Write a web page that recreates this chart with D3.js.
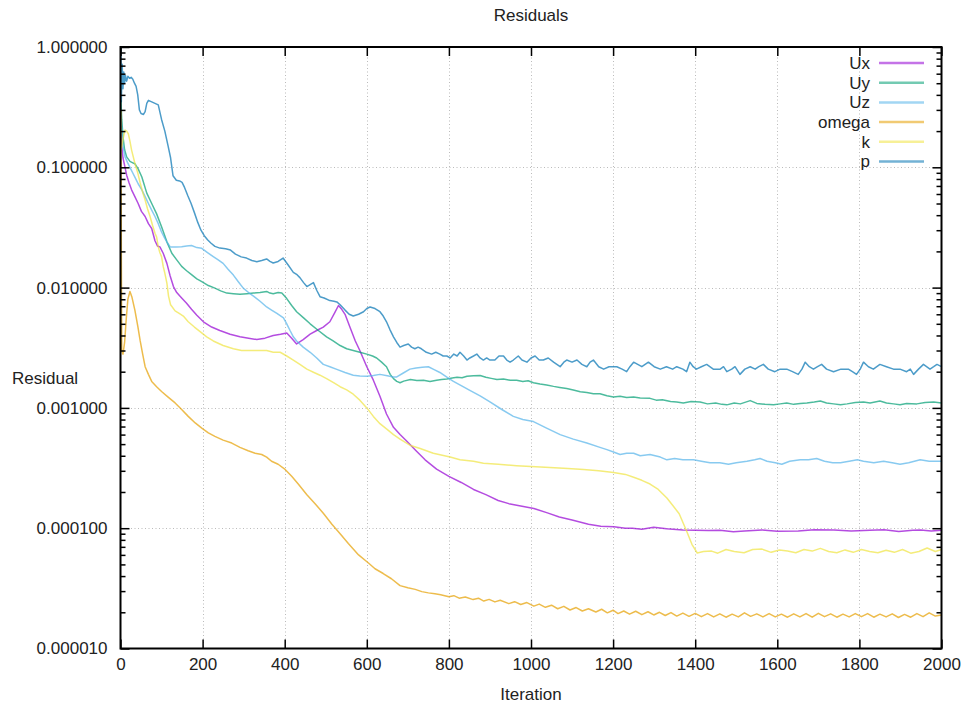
<!DOCTYPE html>
<html>
<head>
<meta charset="utf-8">
<script src="https://cdn.jsdelivr.net/npm/d3@7"></script>
<style>
  body { margin: 0; background: #fff; }
  text { font-family: "Liberation Sans", Arial, sans-serif; fill: #222; }
</style>
</head>
<body>
<svg id="chart"></svg>
<script>
// residual histories, [iteration, residual]
const p = [[1,1.0],[2,0.35],[4,0.72],[6,0.45],[8,0.62],[10,0.5],[12,0.58],[15,0.52],[18,0.57],[22,0.55],[26,0.56],[30,0.54],[34,0.5],[38,0.47],[42,0.4],[46,0.3],[50,0.28],[56,0.275],[60,0.29],[64,0.34],[68,0.36],[76,0.35],[84,0.34],[92,0.33],[100,0.25],[108,0.2],[116,0.15],[122,0.12],[128,0.085],[136,0.078],[144,0.077],[150,0.075],[156,0.068],[164,0.058],[172,0.05],[180,0.042],[188,0.035],[196,0.03],[204,0.027],[212,0.025],[220,0.0235],[230,0.022],[242,0.0213],[256,0.021],[268,0.0205],[280,0.019],[294,0.018],[307,0.0176],[320,0.0168],[332,0.0164],[344,0.0168],[356,0.0173],[364,0.0165],[372,0.016],[384,0.0165],[396,0.0176],[408,0.0155],[421,0.0134],[430,0.0128],[437,0.0121],[446,0.011],[454,0.0102],[462,0.0106],[470,0.011],[478,0.0095],[486,0.0084],[496,0.0082],[510,0.0078],[520,0.0077],[527,0.0076],[535,0.0072],[547,0.0065],[557,0.006],[567,0.0058],[580,0.006],[592,0.0063],[600,0.0067],[608,0.0069],[620,0.0067],[632,0.0063],[640,0.0058],[648,0.0052],[656,0.0045],[665,0.0039],[673,0.0035],[681,0.0032],[690,0.0033],[701,0.0034],[709,0.0032],[717,0.0031],[725,0.0032],[733,0.0031],[745,0.0029],[758,0.0028],[768,0.0029],[778,0.0028],[786,0.0027],[795,0.0027],[803,0.0026],[812,0.0028],[820,0.0027],[827,0.0029],[836,0.0027],[844,0.0025],[851,0.0026],[860,0.0027],[868,0.0028],[876,0.0026],[884,0.0025],[892,0.0026],[900,0.0025],[912,0.0025],[922,0.0027],[933,0.0027],[941,0.0025],[949,0.0024],[957,0.0025],[969,0.0027],[978,0.0025],[990,0.0024],[1000,0.0026],[1010,0.0027],[1020,0.0025],[1030,0.0025],[1042,0.0026],[1055,0.0024],[1063,0.0023],[1071,0.0022],[1080,0.0024],[1087,0.0025],[1100,0.0024],[1112,0.0025],[1124,0.0023],[1136,0.0022],[1144,0.0024],[1152,0.0025],[1165,0.0022],[1177,0.0021],[1190,0.0022],[1209,0.0022],[1222,0.0021],[1233,0.0020],[1241,0.0022],[1250,0.0024],[1260,0.0023],[1270,0.0022],[1286,0.0024],[1300,0.0022],[1315,0.0021],[1330,0.0022],[1345,0.0021],[1355,0.0022],[1370,0.0021],[1379,0.0020],[1387,0.0024],[1395,0.0022],[1403,0.0021],[1415,0.0022],[1428,0.0023],[1444,0.0021],[1461,0.0021],[1469,0.0022],[1477,0.0020],[1489,0.0021],[1497,0.0022],[1509,0.0019],[1521,0.0021],[1534,0.0022],[1546,0.0021],[1555,0.0022],[1566,0.0023],[1578,0.0021],[1594,0.0020],[1607,0.0021],[1623,0.0021],[1637,0.0020],[1651,0.0019],[1660,0.0021],[1668,0.0024],[1678,0.0022],[1688,0.0021],[1698,0.0022],[1708,0.0023],[1720,0.0021],[1737,0.0020],[1755,0.0021],[1773,0.0021],[1783,0.0020],[1793,0.0019],[1802,0.0021],[1810,0.0024],[1822,0.0022],[1834,0.0021],[1850,0.0023],[1866,0.0022],[1883,0.0021],[1899,0.0021],[1915,0.0020],[1924,0.0021],[1932,0.0019],[1944,0.0021],[1956,0.0023],[1972,0.0021],[1981,0.0022],[1989,0.0023],[2000,0.0022]];

const Uy = [[1,0.36],[3,0.25],[6,0.18],[10,0.14],[15,0.122],[23,0.112],[30,0.109],[35,0.107],[43,0.097],[52,0.083],[64,0.061],[76,0.05],[88,0.041],[100,0.032],[113,0.024],[125,0.0193],[137,0.017],[149,0.015],[161,0.0138],[173,0.0128],[186,0.0118],[198,0.0112],[214,0.0104],[230,0.0099],[244,0.0094],[259,0.009],[275,0.0089],[291,0.0088],[308,0.0089],[324,0.009],[340,0.0091],[356,0.0093],[364,0.009],[372,0.0089],[384,0.0091],[393,0.009],[405,0.0081],[417,0.0071],[429,0.0063],[446,0.0056],[462,0.005],[482,0.0044],[502,0.0039],[518,0.0036],[535,0.0033],[551,0.0031],[567,0.003],[583,0.0029],[600,0.0028],[614,0.0027],[624,0.0026],[636,0.0024],[648,0.0022],[657,0.0019],[665,0.00175],[673,0.00166],[681,0.00162],[690,0.00167],[706,0.00172],[722,0.00169],[738,0.0017],[754,0.00166],[770,0.0017],[782,0.00172],[795,0.00174],[808,0.00177],[820,0.0018],[832,0.00178],[844,0.00183],[860,0.00185],[876,0.00186],[890,0.0018],[903,0.00176],[917,0.00172],[933,0.00174],[949,0.0017],[965,0.0017],[980,0.00166],[993,0.00168],[1006,0.00162],[1022,0.00158],[1038,0.00155],[1055,0.00151],[1070,0.00148],[1087,0.00145],[1103,0.00141],[1120,0.00136],[1136,0.00134],[1152,0.00131],[1168,0.00131],[1185,0.00126],[1201,0.00123],[1217,0.00125],[1233,0.00122],[1250,0.00123],[1266,0.00121],[1290,0.0012],[1305,0.00116],[1320,0.00117],[1340,0.00113],[1355,0.00112],[1371,0.0011],[1390,0.00113],[1412,0.00112],[1430,0.00108],[1450,0.0011],[1465,0.00107],[1477,0.00106],[1495,0.0011],[1510,0.00108],[1534,0.00115],[1550,0.00109],[1570,0.00107],[1591,0.00106],[1607,0.00108],[1623,0.0011],[1640,0.00107],[1656,0.00109],[1672,0.0011],[1690,0.00112],[1705,0.00114],[1720,0.0011],[1737,0.00108],[1754,0.00106],[1770,0.00108],[1790,0.00111],[1810,0.00112],[1826,0.0011],[1850,0.00114],[1866,0.0011],[1883,0.00108],[1899,0.00106],[1915,0.00109],[1940,0.00108],[1960,0.00111],[1981,0.00112],[2000,0.0011]];

const Uz = [[1,0.28],[3,0.2],[6,0.15],[11,0.122],[17,0.11],[23,0.1],[29,0.091],[35,0.083],[43,0.073],[52,0.065],[60,0.057],[68,0.05],[76,0.044],[84,0.039],[92,0.034],[100,0.029],[107,0.026],[113,0.024],[121,0.0218],[135,0.0218],[149,0.0219],[161,0.0222],[173,0.0224],[186,0.0215],[198,0.0212],[212,0.0195],[226,0.0181],[238,0.017],[250,0.0159],[262,0.0142],[275,0.0127],[287,0.0112],[299,0.0099],[312,0.0091],[324,0.0085],[340,0.0077],[356,0.0069],[368,0.0065],[381,0.0061],[397,0.0056],[405,0.0050],[413,0.0044],[421,0.0039],[429,0.0036],[445,0.0032],[462,0.0029],[478,0.0026],[494,0.0023],[510,0.0022],[527,0.00209],[547,0.00197],[567,0.00187],[583,0.00184],[600,0.00183],[616,0.00186],[632,0.0019],[650,0.00185],[665,0.00181],[673,0.00181],[689,0.00195],[705,0.0021],[720,0.00215],[735,0.00218],[750,0.0022],[764,0.00208],[778,0.00197],[795,0.0018],[811,0.00166],[830,0.00153],[851,0.0014],[876,0.00126],[900,0.00112],[929,0.00097],[957,0.00085],[980,0.0008],[1006,0.00077],[1038,0.00068],[1071,0.0006],[1103,0.00055],[1136,0.00051],[1168,0.00047],[1185,0.00045],[1201,0.00043],[1217,0.00041],[1233,0.00042],[1250,0.00042],[1266,0.0004],[1290,0.00041],[1315,0.00039],[1331,0.00037],[1350,0.00038],[1370,0.00037],[1396,0.00037],[1415,0.00036],[1436,0.00035],[1460,0.00035],[1481,0.00034],[1500,0.00035],[1526,0.00036],[1545,0.00037],[1558,0.00038],[1575,0.00036],[1595,0.00035],[1611,0.00034],[1630,0.00036],[1656,0.00037],[1676,0.00037],[1696,0.00038],[1715,0.00036],[1735,0.00035],[1754,0.00035],[1775,0.00036],[1795,0.00037],[1810,0.00036],[1835,0.00035],[1859,0.00036],[1880,0.00035],[1899,0.00034],[1920,0.00035],[1948,0.00037],[1970,0.00036],[2000,0.00036]];

const Ux = [[1,0.22],[3,0.15],[6,0.12],[11,0.1],[15,0.086],[21,0.074],[27,0.065],[35,0.057],[43,0.05],[51,0.043],[60,0.039],[68,0.034],[76,0.031],[84,0.0245],[90,0.0222],[96,0.0218],[104,0.0193],[113,0.0159],[121,0.0125],[129,0.0102],[137,0.0091],[149,0.0082],[161,0.0074],[173,0.0066],[186,0.0059],[202,0.0052],[222,0.0047],[242,0.0044],[267,0.0041],[291,0.0039],[312,0.0038],[332,0.0037],[352,0.0038],[372,0.004],[390,0.0041],[405,0.0042],[417,0.0038],[429,0.0034],[445,0.0037],[462,0.0041],[478,0.0044],[494,0.0047],[510,0.0052],[522,0.0062],[531,0.0071],[539,0.0066],[547,0.006],[560,0.0046],[572,0.0036],[583,0.003],[600,0.0022],[616,0.0017],[632,0.00125],[648,0.00089],[665,0.00069],[681,0.0006],[697,0.00053],[720,0.00044],[742,0.00037],[770,0.00031],[800,0.00027],[830,0.00024],[860,0.00021],[890,0.00019],[920,0.00017],[946,0.00016],[975,0.000153],[1007,0.000146],[1040,0.000134],[1069,0.000124],[1100,0.000117],[1140,0.000108],[1170,0.000104],[1202,0.000103],[1230,0.0001],[1247,0.0001],[1270,0.000098],[1299,0.000102],[1330,0.000099],[1370,0.0000967],[1400,0.000096],[1432,0.0000955],[1460,0.000096],[1493,0.0000935],[1520,0.000095],[1563,0.0000967],[1600,0.0000945],[1651,0.000095],[1690,0.000097],[1738,0.0000967],[1780,0.000095],[1826,0.000096],[1860,0.000097],[1896,0.000094],[1930,0.000096],[1949,0.0000967],[1975,0.000095],[2000,0.000096]];

const k = [[1,0.14],[3,0.148],[6,0.17],[11,0.204],[15,0.2],[19,0.19],[23,0.165],[27,0.139],[35,0.108],[42,0.09],[48,0.074],[54,0.062],[60,0.0535],[66,0.045],[72,0.039],[78,0.033],[84,0.0283],[88,0.0263],[92,0.0218],[96,0.0195],[100,0.0181],[104,0.015],[108,0.0132],[113,0.0109],[117,0.0085],[122,0.0072],[133,0.0064],[143,0.0061],[153,0.0058],[165,0.0052],[180,0.0047],[194,0.0043],[210,0.0039],[226,0.0036],[250,0.0033],[275,0.0031],[295,0.0030],[316,0.003],[336,0.003],[356,0.003],[372,0.0029],[389,0.0029],[405,0.0027],[421,0.0025],[437,0.0023],[454,0.0021],[470,0.00198],[486,0.00187],[502,0.00175],[519,0.00162],[535,0.0015],[551,0.00141],[567,0.0013],[583,0.00116],[600,0.001],[616,0.00085],[632,0.00074],[648,0.00067],[665,0.0006],[681,0.00055],[705,0.00049],[730,0.00046],[762,0.00042],[803,0.00039],[827,0.00037],[860,0.00036],[884,0.000346],[920,0.00034],[965,0.000331],[1000,0.000326],[1046,0.00032],[1090,0.000314],[1128,0.000308],[1165,0.0003],[1201,0.00029],[1230,0.00028],[1250,0.000265],[1270,0.00025],[1290,0.000233],[1310,0.00021],[1331,0.000178],[1345,0.000155],[1361,0.000132],[1378,0.0000967],[1392,0.0000735],[1405,0.0000622],[1420,0.000064],[1440,0.0000645],[1455,0.000062],[1475,0.0000665],[1495,0.000064],[1519,0.0000625],[1540,0.0000665],[1563,0.000067],[1585,0.000063],[1605,0.000066],[1625,0.0000645],[1645,0.0000625],[1665,0.0000665],[1685,0.0000645],[1705,0.000068],[1725,0.000064],[1745,0.0000625],[1765,0.000066],[1785,0.000063],[1805,0.0000665],[1825,0.000064],[1845,0.0000625],[1865,0.0000655],[1885,0.000063],[1905,0.0000665],[1925,0.000062],[1945,0.000064],[1965,0.0000685],[1985,0.000064],[2000,0.0000665]];

const omega = [[1,0.3],[2,0.02],[3,0.003],[6,0.0028],[10,0.0035],[14,0.0055],[18,0.008],[23,0.0093],[28,0.0083],[35,0.0065],[42,0.0048],[48,0.0036],[54,0.0028],[60,0.0022],[68,0.0019],[76,0.00166],[88,0.0015],[100,0.00137],[116,0.00123],[133,0.0011],[149,0.00097],[165,0.00085],[182,0.00075],[198,0.00068],[214,0.00062],[230,0.00058],[250,0.00054],[271,0.00051],[291,0.00047],[311,0.00044],[328,0.00042],[344,0.00041],[356,0.00039],[368,0.00036],[384,0.00034],[401,0.000308],[417,0.00027],[433,0.000233],[454,0.00019],[474,0.00016],[495,0.000132],[515,0.000108],[535,0.00009],[555,0.0000745],[580,0.00006],[604,0.0000514],[620,0.000046],[640,0.000042],[660,0.000038],[681,0.0000333],[700,0.000032],[718,0.000031],[734,0.0000297],[750,0.000029],[766,0.0000285],[780,0.000028],[800,0.0000269],[812,0.0000275],[825,0.0000262],[840,0.0000268],[859,0.0000255],[872,0.0000262],[885,0.0000248],[898,0.0000256],[912,0.0000244],[925,0.0000252],[946,0.0000236],[960,0.0000245],[975,0.0000232],[990,0.0000241],[1007,0.0000225],[1020,0.0000234],[1035,0.000022],[1050,0.0000229],[1065,0.0000214],[1080,0.0000224],[1095,0.0000209],[1110,0.0000219],[1125,0.0000205],[1140,0.0000214],[1158,0.0000201],[1172,0.0000212],[1186,0.0000198],[1200,0.0000208],[1212,0.0000195],[1226,0.0000205],[1240,0.0000193],[1255,0.0000204],[1270,0.0000191],[1285,0.0000202],[1299,0.000019],[1313,0.00002],[1327,0.0000188],[1341,0.0000199],[1355,0.0000186],[1370,0.0000197],[1385,0.0000185],[1400,0.0000196],[1415,0.0000184],[1430,0.0000195],[1445,0.0000183],[1460,0.0000194],[1475,0.0000182],[1490,0.0000193],[1505,0.0000183],[1520,0.0000198],[1535,0.0000185],[1550,0.0000194],[1565,0.0000183],[1580,0.0000195],[1595,0.0000183],[1610,0.0000193],[1625,0.0000182],[1640,0.0000194],[1655,0.0000183],[1670,0.0000195],[1685,0.0000182],[1700,0.0000196],[1715,0.0000184],[1730,0.0000194],[1745,0.0000182],[1760,0.0000193],[1775,0.0000183],[1790,0.0000195],[1805,0.0000184],[1820,0.0000195],[1835,0.0000182],[1850,0.0000193],[1865,0.0000183],[1880,0.0000194],[1895,0.0000181],[1910,0.0000192],[1925,0.0000182],[1940,0.0000195],[1955,0.0000184],[1970,0.0000198],[1985,0.0000186],[2000,0.000019]];

const seriesNames = ['Ux', 'Uy', 'Uz', 'omega', 'k', 'p'];
const seriesData = [Ux, Uy, Uz, omega, k, p];
const seriesColors = ['#9400d3', '#009e73', '#56b4e9', '#e69f00', '#f0e442', '#0072b2'];

const xTicks = [0, 200, 400, 600, 800, 1000, 1200, 1400, 1600, 1800, 2000];
const yTicks = [1e-5, 1e-4, 1e-3, 1e-2, 1e-1, 1];

const W = 968, H = 708;
const plotL = 120.5, plotR = 941.5, plotT = 47, plotB = 648.5;

const svg = d3.select('#chart').attr('width', W).attr('height', H);

const x = d3.scaleLinear().domain([0, 2000]).range([plotL, plotR]);
const y = d3.scaleLog().domain([1e-5, 1]).range([plotB, plotT]);

const yMinor = [];
yTicks.slice(0, -1).forEach(d => { for (let m = 2; m < 10; m++) yMinor.push(d * m); });

// grid
const grid = svg.append('g')
  .attr('stroke', '#bbb')
  .attr('stroke-width', 1)
  .attr('stroke-dasharray', '1,2.5');
grid.selectAll('line.gx')
  .data(xTicks.slice(1, -1))
  .enter().append('line')
  .attr('x1', d => Math.round(x(d)) + 0.5).attr('x2', d => Math.round(x(d)) + 0.5)
  .attr('y1', plotT).attr('y2', plotB);
grid.selectAll('line.gy')
  .data(yTicks.slice(1, -1))
  .enter().append('line')
  .attr('y1', d => Math.round(y(d)) + 0.5).attr('y2', d => Math.round(y(d)) + 0.5)
  .attr('x1', plotL).attr('x2', plotR);

// lines
const line = d3.line().x(d => x(d[0])).y(d => y(d[1]));
svg.append('g').selectAll('path')
  .data(seriesData)
  .enter().append('path')
  .attr('d', line)
  .attr('fill', 'none')
  .attr('stroke', (d, i) => seriesColors[i])
  .attr('stroke-opacity', 0.7)
  .attr('stroke-width', 1.5)
  .attr('stroke-linejoin', 'round');

// axes, ticks pointing inward, mirrored on top and right
const fontSize = '17px';
const styleAxis = g => {
  g.select('.domain').remove();
  g.selectAll('.tick line').attr('stroke', '#000').attr('stroke-width', 1.5);
  g.selectAll('.tick text').attr('fill', '#222').style('font-size', fontSize)
    .style('font-family', '"Liberation Sans", Arial, sans-serif');
};

svg.append('g').attr('transform', `translate(0,${plotB})`)
  .call(d3.axisBottom(x).tickValues(xTicks).tickSize(-9).tickSizeOuter(0).tickPadding(9).tickFormat(d3.format('d')))
  .call(styleAxis);
svg.append('g').attr('transform', `translate(0,${plotT})`)
  .call(d3.axisTop(x).tickValues(xTicks).tickSize(-9).tickSizeOuter(0).tickFormat(''))
  .call(styleAxis);
svg.append('g').attr('transform', `translate(${plotL},0)`)
  .call(d3.axisLeft(y).tickValues(yTicks).tickSize(-9).tickSizeOuter(0).tickPadding(13).tickFormat(d3.format('.6f')))
  .call(styleAxis);
svg.append('g').attr('transform', `translate(${plotL},0)`)
  .call(d3.axisLeft(y).tickValues(yMinor).tickSize(-5).tickSizeOuter(0).tickFormat(''))
  .call(styleAxis);
svg.append('g').attr('transform', `translate(${plotR},0)`)
  .call(d3.axisRight(y).tickValues(yTicks).tickSize(-9).tickSizeOuter(0).tickFormat(''))
  .call(styleAxis);
svg.append('g').attr('transform', `translate(${plotR},0)`)
  .call(d3.axisRight(y).tickValues(yMinor).tickSize(-5).tickSizeOuter(0).tickFormat(''))
  .call(styleAxis);

// frame
svg.append('rect')
  .attr('x', plotL).attr('y', plotT)
  .attr('width', plotR - plotL).attr('height', plotB - plotT)
  .attr('fill', 'none').attr('stroke', '#000').attr('stroke-width', 2);

// titles
svg.append('text').attr('x', (plotL + plotR) / 2).attr('y', 21)
  .attr('text-anchor', 'middle').style('font-size', fontSize).text('Residuals');
svg.append('text').attr('x', (plotL + plotR) / 2).attr('y', 700)
  .attr('text-anchor', 'middle').style('font-size', fontSize).text('Iteration');
svg.append('text').attr('x', 12).attr('y', 384)
  .attr('text-anchor', 'start').style('font-size', fontSize).text('Residual');

// key
const key = svg.append('g').selectAll('g')
  .data(seriesNames)
  .enter().append('g')
  .attr('transform', (d, i) => `translate(0,${63 + i * 19.7})`);
key.append('text')
  .attr('x', 870).attr('dy', '0.35em')
  .attr('text-anchor', 'end').style('font-size', fontSize)
  .text(d => d);
key.append('line')
  .attr('x1', 879).attr('x2', 924)
  .attr('stroke', (d, i) => seriesColors[i])
  .attr('stroke-opacity', 0.55)
  .attr('stroke-width', 2.5);
</script>
</body>
</html>
